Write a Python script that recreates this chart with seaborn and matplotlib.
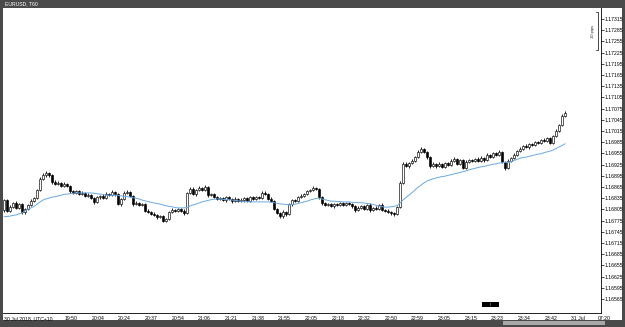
import numpy as np
import pandas as pd
import matplotlib
matplotlib.use("Agg")
import matplotlib.pyplot as plt
import seaborn as sns
from matplotlib.patches import Rectangle

# ---------------- data (EURUSD, T60 candles) ----------------
opens = [
1.16803, 1.16830, 1.16801, 1.16811, 1.16822, 1.16809, 1.16819, 1.16798, 1.16806, 1.16817,
1.16827, 1.16835, 1.16857, 1.16886, 1.16897, 1.16902, 1.16897, 1.16878, 1.16873, 1.16876,
1.16868, 1.16873, 1.16868, 1.16854, 1.16849, 1.16854, 1.16846, 1.16849, 1.16841, 1.16843,
1.16835, 1.16825, 1.16838, 1.16841, 1.16835, 1.16846, 1.16843, 1.16852, 1.16846, 1.16819,
1.16833, 1.16849, 1.16852, 1.16841, 1.16819, 1.16822, 1.16817, 1.16819, 1.16801, 1.16798,
1.16793, 1.16790, 1.16785, 1.16787, 1.16774, 1.16779, 1.16798, 1.16803, 1.16801, 1.16806,
1.16801, 1.16795, 1.16849, 1.16860, 1.16846, 1.16857, 1.16862, 1.16857, 1.16865, 1.16843,
1.16846, 1.16838, 1.16833, 1.16835, 1.16830, 1.16838, 1.16833, 1.16827, 1.16833, 1.16827,
1.16830, 1.16835, 1.16827, 1.16838, 1.16833, 1.16838, 1.16835, 1.16849, 1.16846, 1.16833,
1.16827, 1.16806, 1.16795, 1.16787, 1.16798, 1.16793, 1.16819, 1.16830, 1.16827, 1.16838,
1.16841, 1.16846, 1.16854, 1.16857, 1.16862, 1.16860, 1.16838, 1.16822, 1.16817, 1.16819,
1.16814, 1.16819, 1.16817, 1.16822, 1.16817, 1.16822, 1.16819, 1.16814, 1.16803, 1.16809,
1.16814, 1.16806, 1.16817, 1.16803, 1.16809, 1.16806, 1.16817, 1.16803, 1.16801, 1.16798,
1.16795, 1.16793, 1.16811, 1.16876, 1.16927, 1.16921, 1.16929, 1.16935, 1.16945, 1.16959,
1.16967, 1.16959, 1.16945, 1.16921, 1.16927, 1.16921, 1.16927, 1.16919, 1.16929, 1.16924,
1.16935, 1.16940, 1.16927, 1.16937, 1.16916, 1.16932, 1.16937, 1.16935, 1.16940, 1.16935,
1.16943, 1.16937, 1.16951, 1.16945, 1.16956, 1.16951, 1.16959, 1.16932, 1.16916, 1.16935,
1.16943, 1.16951, 1.16961, 1.16967, 1.16975, 1.16972, 1.16980, 1.16977, 1.16985, 1.16983,
1.16991, 1.16988, 1.16996, 1.16983, 1.17002, 1.17015, 1.17031, 1.17055]

closes = [
1.16830, 1.16801, 1.16811, 1.16822, 1.16809, 1.16819, 1.16798, 1.16806, 1.16817, 1.16827,
1.16835, 1.16857, 1.16886, 1.16897, 1.16902, 1.16897, 1.16878, 1.16873, 1.16876, 1.16868,
1.16873, 1.16868, 1.16854, 1.16849, 1.16854, 1.16846, 1.16849, 1.16841, 1.16843, 1.16835,
1.16825, 1.16838, 1.16841, 1.16835, 1.16846, 1.16843, 1.16852, 1.16846, 1.16819, 1.16833,
1.16849, 1.16852, 1.16841, 1.16819, 1.16822, 1.16817, 1.16819, 1.16801, 1.16798, 1.16793,
1.16790, 1.16785, 1.16787, 1.16774, 1.16779, 1.16798, 1.16803, 1.16801, 1.16806, 1.16801,
1.16795, 1.16849, 1.16860, 1.16846, 1.16857, 1.16862, 1.16857, 1.16865, 1.16843, 1.16846,
1.16838, 1.16833, 1.16835, 1.16830, 1.16838, 1.16833, 1.16827, 1.16833, 1.16827, 1.16830,
1.16835, 1.16827, 1.16838, 1.16833, 1.16838, 1.16835, 1.16849, 1.16846, 1.16833, 1.16827,
1.16806, 1.16795, 1.16787, 1.16798, 1.16793, 1.16819, 1.16830, 1.16827, 1.16838, 1.16841,
1.16846, 1.16854, 1.16857, 1.16862, 1.16860, 1.16838, 1.16822, 1.16817, 1.16819, 1.16814,
1.16819, 1.16817, 1.16822, 1.16817, 1.16822, 1.16819, 1.16814, 1.16803, 1.16809, 1.16814,
1.16806, 1.16817, 1.16803, 1.16809, 1.16806, 1.16817, 1.16803, 1.16801, 1.16798, 1.16795,
1.16793, 1.16811, 1.16876, 1.16927, 1.16921, 1.16929, 1.16935, 1.16945, 1.16959, 1.16967,
1.16959, 1.16945, 1.16921, 1.16927, 1.16921, 1.16927, 1.16919, 1.16929, 1.16924, 1.16935,
1.16940, 1.16927, 1.16937, 1.16916, 1.16932, 1.16937, 1.16935, 1.16940, 1.16935, 1.16943,
1.16937, 1.16951, 1.16945, 1.16956, 1.16951, 1.16959, 1.16932, 1.16916, 1.16935, 1.16943,
1.16951, 1.16961, 1.16967, 1.16975, 1.16972, 1.16980, 1.16977, 1.16985, 1.16983, 1.16991,
1.16988, 1.16996, 1.16983, 1.17002, 1.17015, 1.17031, 1.17055, 1.17063]

highs = [
1.16833, 1.16834, 1.16816, 1.16825, 1.16828, 1.16821, 1.16822, 1.16810, 1.16819, 1.16832,
1.16839, 1.16860, 1.16891, 1.16903, 1.16909, 1.16906, 1.16899, 1.16883, 1.16880, 1.16879,
1.16878, 1.16875, 1.16871, 1.16858, 1.16857, 1.16856, 1.16853, 1.16852, 1.16848, 1.16845,
1.16838, 1.16842, 1.16844, 1.16845, 1.16851, 1.16849, 1.16856, 1.16855, 1.16850, 1.16836,
1.16854, 1.16856, 1.16855, 1.16843, 1.16827, 1.16825, 1.16823, 1.16821, 1.16805, 1.16801,
1.16797, 1.16793, 1.16791, 1.16790, 1.16783, 1.16801, 1.16808, 1.16806, 1.16810, 1.16809,
1.16805, 1.16852, 1.16865, 1.16864, 1.16860, 1.16868, 1.16865, 1.16869, 1.16868, 1.16850,
1.16849, 1.16842, 1.16838, 1.16839, 1.16841, 1.16842, 1.16836, 1.16837, 1.16836, 1.16835,
1.16838, 1.16839, 1.16841, 1.16842, 1.16841, 1.16842, 1.16854, 1.16853, 1.16849, 1.16837,
1.16830, 1.16810, 1.16798, 1.16802, 1.16801, 1.16823, 1.16833, 1.16834, 1.16841, 1.16845,
1.16849, 1.16858, 1.16860, 1.16867, 1.16866, 1.16863, 1.16841, 1.16826, 1.16822, 1.16823,
1.16822, 1.16823, 1.16825, 1.16826, 1.16825, 1.16826, 1.16822, 1.16817, 1.16813, 1.16817,
1.16818, 1.16820, 1.16821, 1.16812, 1.16813, 1.16820, 1.16821, 1.16806, 1.16805, 1.16801,
1.16799, 1.16814, 1.16880, 1.16932, 1.16931, 1.16932, 1.16939, 1.16948, 1.16963, 1.16972,
1.16970, 1.16962, 1.16948, 1.16931, 1.16930, 1.16931, 1.16930, 1.16933, 1.16932, 1.16939,
1.16945, 1.16943, 1.16941, 1.16940, 1.16936, 1.16940, 1.16941, 1.16943, 1.16944, 1.16948,
1.16946, 1.16955, 1.16954, 1.16960, 1.16959, 1.16964, 1.16962, 1.16935, 1.16939, 1.16946,
1.16955, 1.16964, 1.16971, 1.16978, 1.16979, 1.16983, 1.16984, 1.16988, 1.16989, 1.16994,
1.16995, 1.16999, 1.17000, 1.17005, 1.17019, 1.17034, 1.17060, 1.17069]

lows = [
1.16799, 1.16798, 1.16799, 1.16808, 1.16807, 1.16805, 1.16792, 1.16793, 1.16803, 1.16815,
1.16824, 1.16833, 1.16854, 1.16884, 1.16893, 1.16892, 1.16874, 1.16870, 1.16869, 1.16864,
1.16866, 1.16865, 1.16850, 1.16846, 1.16845, 1.16843, 1.16844, 1.16837, 1.16838, 1.16832,
1.16820, 1.16822, 1.16834, 1.16832, 1.16833, 1.16840, 1.16841, 1.16842, 1.16816, 1.16815,
1.16830, 1.16845, 1.16838, 1.16815, 1.16816, 1.16813, 1.16814, 1.16797, 1.16795, 1.16789,
1.16787, 1.16780, 1.16782, 1.16770, 1.16771, 1.16777, 1.16795, 1.16797, 1.16798, 1.16798,
1.16791, 1.16793, 1.16846, 1.16843, 1.16842, 1.16854, 1.16853, 1.16854, 1.16839, 1.16840,
1.16835, 1.16829, 1.16830, 1.16827, 1.16826, 1.16830, 1.16823, 1.16824, 1.16824, 1.16824,
1.16826, 1.16824, 1.16824, 1.16830, 1.16829, 1.16832, 1.16832, 1.16843, 1.16829, 1.16824,
1.16802, 1.16792, 1.16781, 1.16783, 1.16788, 1.16790, 1.16815, 1.16824, 1.16824, 1.16835,
1.16837, 1.16843, 1.16851, 1.16854, 1.16857, 1.16834, 1.16818, 1.16814, 1.16813, 1.16811,
1.16810, 1.16814, 1.16814, 1.16813, 1.16814, 1.16816, 1.16810, 1.16799, 1.16800, 1.16805,
1.16803, 1.16803, 1.16799, 1.16800, 1.16803, 1.16802, 1.16800, 1.16797, 1.16795, 1.16791,
1.16786, 1.16790, 1.16808, 1.16873, 1.16918, 1.16917, 1.16926, 1.16932, 1.16942, 1.16956,
1.16955, 1.16941, 1.16917, 1.16918, 1.16917, 1.16918, 1.16915, 1.16916, 1.16921, 1.16921,
1.16932, 1.16923, 1.16924, 1.16912, 1.16913, 1.16928, 1.16932, 1.16931, 1.16932, 1.16932,
1.16933, 1.16934, 1.16942, 1.16942, 1.16947, 1.16948, 1.16928, 1.16910, 1.16913, 1.16932,
1.16940, 1.16947, 1.16958, 1.16964, 1.16969, 1.16968, 1.16974, 1.16974, 1.16980, 1.16979,
1.16985, 1.16985, 1.16979, 1.16980, 1.16999, 1.17011, 1.17028, 1.17052]

ma_values = [
1.16785, 1.16786, 1.16787, 1.16789, 1.16790, 1.16793, 1.16795, 1.16801, 1.16805, 1.16809,
1.16813, 1.16819, 1.16825, 1.16830, 1.16833, 1.16835, 1.16838, 1.16839, 1.16841, 1.16843,
1.16845, 1.16846, 1.16847, 1.16848, 1.16849, 1.16849, 1.16849, 1.16849, 1.16849, 1.16849,
1.16848, 1.16847, 1.16846, 1.16845, 1.16843, 1.16843, 1.16843, 1.16843, 1.16843, 1.16841,
1.16840, 1.16839, 1.16838, 1.16836, 1.16835, 1.16833, 1.16830, 1.16828, 1.16826, 1.16824,
1.16822, 1.16821, 1.16819, 1.16817, 1.16815, 1.16813, 1.16812, 1.16810, 1.16809, 1.16809,
1.16809, 1.16810, 1.16814, 1.16817, 1.16819, 1.16822, 1.16825, 1.16827, 1.16829, 1.16831,
1.16832, 1.16833, 1.16833, 1.16832, 1.16831, 1.16831, 1.16830, 1.16829, 1.16828, 1.16827,
1.16826, 1.16826, 1.16825, 1.16825, 1.16825, 1.16825, 1.16825, 1.16825, 1.16825, 1.16824,
1.16823, 1.16821, 1.16820, 1.16819, 1.16818, 1.16817, 1.16818, 1.16819, 1.16821, 1.16823,
1.16825, 1.16827, 1.16830, 1.16832, 1.16834, 1.16835, 1.16833, 1.16831, 1.16829, 1.16827,
1.16827, 1.16826, 1.16826, 1.16825, 1.16825, 1.16825, 1.16824, 1.16824, 1.16823, 1.16823,
1.16822, 1.16821, 1.16820, 1.16818, 1.16816, 1.16814, 1.16812, 1.16811, 1.16811, 1.16812,
1.16813, 1.16815, 1.16822, 1.16830, 1.16837, 1.16843, 1.16850, 1.16857, 1.16864, 1.16870,
1.16876, 1.16881, 1.16884, 1.16887, 1.16889, 1.16891, 1.16893, 1.16894, 1.16896, 1.16898,
1.16900, 1.16902, 1.16904, 1.16906, 1.16908, 1.16911, 1.16913, 1.16915, 1.16917, 1.16919,
1.16920, 1.16922, 1.16924, 1.16926, 1.16927, 1.16929, 1.16930, 1.16931, 1.16931, 1.16933,
1.16936, 1.16939, 1.16942, 1.16944, 1.16945, 1.16947, 1.16949, 1.16951, 1.16953, 1.16954,
1.16957, 1.16959, 1.16961, 1.16964, 1.16968, 1.16972, 1.16976, 1.16981]

time_labels = ["30 Jul 2018, UTC+10", "19:50", "20:04", "20:24", "20:37", "20:54",
               "21:06", "21:21", "21:38", "21:55", "22:05", "22:18", "22:32",
               "22:50", "22:59", "23:05", "23:15", "23:23", "23:34", "23:42",
               "31 Jul", "07:20"]
price_ticks = [1.17315, 1.17285, 1.17255, 1.17225, 1.17195, 1.17165, 1.17135,
               1.17105, 1.17075, 1.17045, 1.17015, 1.16985, 1.16955, 1.16925,
               1.16895, 1.16865, 1.16835, 1.16805, 1.16775, 1.16745, 1.16715,
               1.16685, 1.16655, 1.16625, 1.16595, 1.16565]
symbol_title = "EURUSD, T60"

# ---------------- figure ----------------
sns.set_style("white")
plt.rcParams["font.family"] = ["Liberation Sans", "DejaVu Sans"]
FS = 3.7

W, H = 625, 327
fig = plt.figure(figsize=(W / 100, H / 100), dpi=100)
fig.patch.set_facecolor("#4a4a4a")

# pixel canvas for window chrome
bg = fig.add_axes([0, 0, 1, 1], zorder=0)
bg.set_xlim(0, W)
bg.set_ylim(H, 0)
bg.axis("off")
bg.add_patch(Rectangle((3, 8), 619, 312, facecolor="white", edgecolor="none"))
bg.text(5, 4.2, symbol_title, color="white", fontsize=FS, va="center", ha="left")
bg.add_patch(Rectangle((503, 321), 102, 4, facecolor="#a8a8a8", edgecolor="none"))

# main chart axes
ax = fig.add_axes([3 / W, 1 - 313 / H, 598 / W, 305 / H], zorder=1)
ax.set_facecolor("none")

idx = np.arange(len(closes))
df = pd.DataFrame({"i": idx, "open": opens, "high": highs, "low": lows,
                   "close": closes, "ma": ma_values})
bull = df[df["close"] >= df["open"]]
bear = df[df["close"] < df["open"]]

ax.vlines(df["i"], df["low"], df["high"], color="black", linewidth=0.6, zorder=2)
ax.bar(bull["i"], (bull["close"] - bull["open"]).clip(lower=0.000008),
       bottom=bull["open"], width=0.72, color="white", edgecolor="black",
       linewidth=0.45, zorder=3)
ax.bar(bear["i"], bear["open"] - bear["close"], bottom=bear["close"],
       width=0.72, color="black", edgecolor="black", linewidth=0.45, zorder=3)

sns.lineplot(data=df, x="i", y="ma", color="#6aa9e0", linewidth=0.7, ax=ax, zorder=4)

ax.set_xlim(-1 / 3, 199)
ax.set_ylim(1.165274, 1.173445)

# x ticks
xpos = [0] + [20.33 + 8.877 * k for k in range(len(time_labels) - 1)]
ax.set_xticks(xpos)
ax.set_xticklabels(time_labels, fontsize=FS, ha="left")
ax.set_xlabel("")
ax.set_ylabel("")

# y ticks on right
ax.yaxis.tick_right()
ax.set_yticks(price_ticks)
ax.set_yticklabels([f"{p:.5f}" for p in price_ticks], fontsize=FS)

ax.tick_params(axis="both", direction="out", length=1.8, width=0.5, pad=0.6,
               colors="black")
ax.tick_params(axis="x", pad=0.4)
for side in ["top", "left"]:
    ax.spines[side].set_visible(False)
for side in ["right", "bottom"]:
    ax.spines[side].set_color("black")
    ax.spines[side].set_linewidth(0.6)
ax.grid(False)

# overlay chrome on top
ov = fig.add_axes([0, 0, 1, 1], zorder=5)
ov.set_xlim(0, W)
ov.set_ylim(H, 0)
ov.axis("off")
ov.patch.set_alpha(0)
# 10 pips scale bracket
ov.plot([596, 598, 598, 596], [12, 12, 50, 50], color="black", linewidth=0.5)
ov.text(593, 31, "10 pips", rotation=90, fontsize=3.0, ha="center", va="center")
# current-time marker box
ov.add_patch(Rectangle((482, 302), 17, 5, facecolor="black", edgecolor="none"))
ov.text(490.5, 304.6, "II", color="white", fontsize=2.8, ha="center", va="center")

fig.savefig("out.png", dpi=100, facecolor=fig.get_facecolor())
